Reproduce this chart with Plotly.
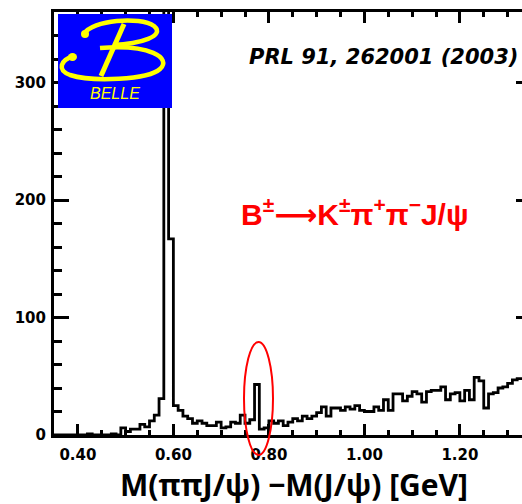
import numpy as np
import plotly.graph_objects as go

# ---------------- data ----------------
bin_start = 0.35
bin_width = 0.01
counts = [
    0, 0, 0, 0, 0, 0, 0, 1, 0, 0,            # 0.35-0.44
    0, 0, 1, 0, 6, 3, 5, 5, 9, 7,            # 0.45-0.54
    12, 17, 31, 450, 167, 25, 21, 16, 14, 10,  # 0.55-0.64
    12, 10, 8, 8, 11, 6, 7, 11, 10, 17,      # 0.65-0.74
    10, 13, 43, 5, 6, 12, 10, 12, 8, 11,     # 0.75-0.84
    14, 12, 16, 14, 16, 19, 24, 16, 23, 23,  # 0.85-0.94
    21, 24, 22, 25, 21, 20, 20, 24, 21, 30,  # 0.95-1.04
    21, 35, 35, 29, 33, 37, 35, 28, 37, 38,  # 1.05-1.14
    38, 41, 30, 35, 36, 29, 38, 30, 49, 46,  # 1.15-1.24
    23, 35, 36, 40, 41, 44, 47, 48, 48, 50,  # 1.25-1.34
]
y_major_ticks = [0, 100, 200, 300]
x_title = "M(ππJ/ψ) −M(J/ψ) [GeV]"
ref_text = "PRL 91, 262001 (2003)"
decay_text = ("B<sup>±</sup><span style=\"font-family:DejaVu Sans\">⟶</span>"
              "K<sup>±</sup>π<sup>+</sup>π<sup>−</sup>J/ψ")

edges = np.round(bin_start + bin_width * np.arange(len(counts) + 1), 4)
xs = list(edges)
ys = list(counts) + [counts[-1]]

# ---------------- geometry ----------------
FIG_W, FIG_H = 522, 504
L, T, R, B = 54, 12, 0, 69
W = FIG_W - L - R
H = FIG_H - T - B
px_per_gev = 477.5
x_range = [0.35, 0.35 + W / px_per_gev]


def px(x):
    return (x - L) / W


def py(y):
    return (T + H - y) / H


def path(cmds):
    out = []
    for c in cmds:
        if isinstance(c, str):
            out.append(c)
        else:
            out.append(f"{px(c[0]):.4f},{py(c[1]):.4f}")
    return " ".join(out)


fig = go.Figure()
fig.add_trace(go.Scatter(
    x=xs, y=ys, mode="lines", line=dict(color="black", width=2.8, shape="hv"),
    hoverinfo="skip", showlegend=False,
))
# invisible trace to show right-axis stubs
fig.add_trace(go.Scatter(x=[xs[0]], y=[0], yaxis="y2", mode="markers",
                         marker=dict(opacity=0), hoverinfo="skip", showlegend=False))

tickfont = dict(family="DejaVu Sans", size=15, color="black", weight="bold")

fig.update_layout(
    width=FIG_W, height=FIG_H,
    margin=dict(l=L, r=R, t=T, b=B),
    paper_bgcolor="white", plot_bgcolor="white",
    xaxis=dict(
        range=x_range, tick0=0.4, dtick=0.2, tickformat=".2f",
        ticks="inside", ticklen=11, tickwidth=2.5, tickcolor="black",
        showline=True, linewidth=3, linecolor="black", mirror="ticks",
        showgrid=False, zeroline=False, tickfont=tickfont,
        minor=dict(tick0=0.35, dtick=0.05, ticks="inside", ticklen=5,
                   tickwidth=2.5, tickcolor="black", showgrid=False),
        ticklabelstandoff=4,
    ),
    yaxis=dict(
        range=[0, 360], tickvals=y_major_ticks,
        ticks="inside", ticklen=15, tickwidth=2.5, tickcolor="black",
        showline=True, linewidth=3, linecolor="black",
        showgrid=False, zeroline=False, tickfont=tickfont,
        minor=dict(dtick=20, ticks="inside", ticklen=8, tickwidth=2.5,
                   tickcolor="black", showgrid=False),
        ticklabelstandoff=2,
    ),
    yaxis2=dict(
        range=[0, 360], overlaying="y", side="right", tickvals=y_major_ticks[1:],
        ticks="inside", ticklen=6, tickwidth=2.5, tickcolor="black",
        showline=False, showgrid=False, zeroline=False, showticklabels=False,
    ),
)

shapes = []
# Belle logo background
shapes.append(dict(type="rect", xref="paper", yref="paper",
                   x0=px(58), x1=px(172), y0=py(108), y1=py(14),
                   fillcolor="#0000ff", line=dict(width=0)))
yellow = "#ffff00"
# upper bowl
shapes.append(dict(type="path", xref="paper", yref="paper",
                   path=path(["M", (84, 34), "C", (92, 20), (140, 16), (154, 26),
                              "C", (166, 36), (140, 44), (113, 45)]),
                   line=dict(color=yellow, width=4.5)))
# lower bowl
shapes.append(dict(type="path", xref="paper", yref="paper",
                   path=path(["M", (100, 48), "C", (150, 44), (172, 58), (160, 69),
                              "C", (148, 80), (92, 82), (70, 75),
                              "C", (57, 70), (60, 60), (74, 56)]),
                   line=dict(color=yellow, width=4.5)))
# stem
shapes.append(dict(type="path", xref="paper", yref="paper",
                   path=path(["M", (124, 24), "L", (101, 76)]),
                   line=dict(color=yellow, width=5)))
# curls
shapes.append(dict(type="circle", xref="paper", yref="paper",
                   x0=px(81), x1=px(89), y0=py(38), y1=py(30),
                   fillcolor=yellow, line=dict(width=0)))
shapes.append(dict(type="circle", xref="paper", yref="paper",
                   x0=px(68), x1=px(77), y0=py(61), y1=py(53),
                   fillcolor=yellow, line=dict(width=0)))
# red ellipse
shapes.append(dict(type="circle", xref="paper", yref="paper",
                   x0=px(244), x1=px(273), y0=py(455), y1=py(342),
                   line=dict(color="red", width=2)))
fig.update_layout(shapes=shapes)

annotations = [
    dict(x=px(115), y=py(94), xref="paper", yref="paper", text="<i>BELLE</i>",
         showarrow=False, font=dict(family="Liberation Sans", size=16, color=yellow),
         xanchor="center", yanchor="middle"),
    dict(x=px(247), y=py(57), xref="paper", yref="paper", text=f"<b><i>{ref_text}</i></b>",
         showarrow=False, font=dict(family="DejaVu Sans", size=21, color="black"),
         xanchor="left", yanchor="middle"),
    dict(x=px(239), y=py(212), xref="paper", yref="paper", text=f"<b>{decay_text}</b>",
         showarrow=False, font=dict(family="Liberation Sans", size=30, color="red"),
         xanchor="left", yanchor="middle"),
    dict(x=px(294), y=py(484), xref="paper", yref="paper", text=f"<b>{x_title}</b>",
         showarrow=False, font=dict(family="Open Sans", size=30, color="black", weight="bold"),
         xanchor="center", yanchor="middle"),
]
fig.update_layout(annotations=annotations)

fig.write_html("out.html")
